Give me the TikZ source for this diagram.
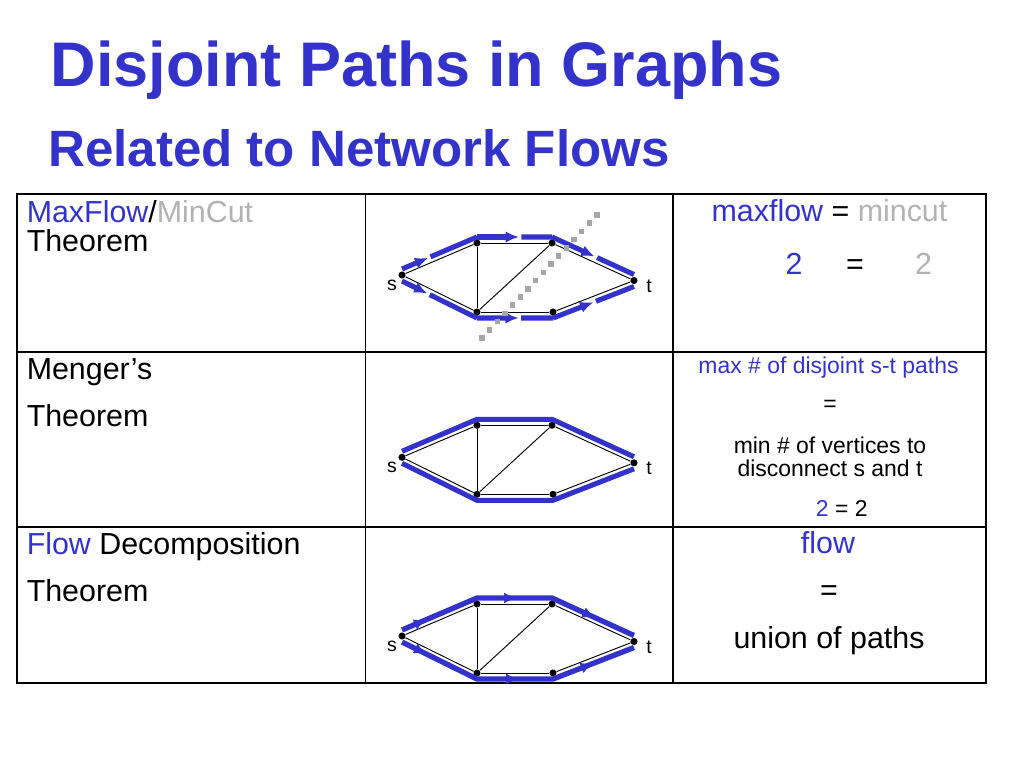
\documentclass[tikz,border=0pt]{standalone}
\usepackage{fontspec}
\setmainfont{Liberation Sans}
\usetikzlibrary{calc,arrows.meta,decorations.markings}
\definecolor{slideblue}{RGB}{51,51,204}
\definecolor{cutgray}{RGB}{178,178,178}
\definecolor{dotgray}{RGB}{166,166,166}
\tikzset{
  vtx/.style={circle,fill=black,inner sep=0pt,minimum size=5.3pt},
  edge/.style={line width=0.7pt,black},
  flow/.style={line width=3.8pt,slideblue},
  lbl/.style={inner sep=0pt,font=\fontsize{14.6}{16}\selectfont},
  celltxt/.style={inner sep=0pt,anchor=base west,font=\fontsize{22.8}{24}\selectfont},
  celltxtc/.style={inner sep=0pt,anchor=base,font=\fontsize{22.8}{24}\selectfont},
  smalltxt/.style={inner sep=0pt,anchor=base,font=\fontsize{17.2}{18}\selectfont}
}
\begin{document}
\begin{tikzpicture}[x=0.75pt,y=-0.75pt]
\useasboundingbox (0,0) rectangle (1023,767);
% titles
\node[anchor=base west,inner sep=0pt,text=slideblue,font=\fontsize{47.25}{50}\selectfont\bfseries] (title) at (50.5,86.7) {Disjoint Paths in Graphs};
\node[anchor=base west,inner sep=0pt,text=slideblue,font=\fontsize{38.3}{40}\selectfont\bfseries] (subtitle) at (48,166.7) {Related to Network Flows};
% table
\draw[line width=1pt] (365.5,194) -- (365.5,683);
\draw[line width=1pt] (673,194) -- (673,683);
\draw[line width=1pt] (17,352) -- (986,352);
\draw[line width=1pt] (17,527) -- (986,527);
\draw[line width=1.8pt] (17,194) rectangle (986,683);
% left column
\node[celltxt] (maxmin) at (26.5,222.3) {\textcolor{slideblue}{MaxFlow}/\textcolor{cutgray}{MinCut}};
\node[celltxt] (thm1) at (26.5,251.7) {Theorem};
\node[celltxt] (menger) at (26.5,379) {Menger’s};
\node[celltxt] (thm2) at (26.5,426.7) {Theorem};
\node[celltxt] (flowdec) at (26.5,554) {\textcolor{slideblue}{Flow} Decomposition};
\node[celltxt] (thm3) at (26.5,601.7) {Theorem};
% right column
\node[celltxtc] (mfmc) at (829.5,221.7) {\textcolor{slideblue}{maxflow} = \textcolor{cutgray}{mincut}};
\node[celltxtc,text=slideblue] (twoa) at (794,274) {2};
\node[celltxtc] (eqa) at (855,274) {=};
\node[celltxtc,text=cutgray] (twob) at (923.5,274) {2};
\node[smalltxt,text=slideblue] (maxpaths) at (828.5,373) {max \# of disjoint s-t paths};
\node[smalltxt] (eqb) at (830,411.7) {=};
\node[smalltxt] (minvert) at (830,453) {min \# of vertices to};
\node[smalltxt] (disc) at (830,476) {disconnect s and t};
\node[smalltxt] (twoc) at (841.7,516.7) {\textcolor{slideblue}{2} = 2};
\node[celltxtc,text=slideblue] (flow) at (828,553) {flow};
\node[celltxtc] (eqc) at (829,600) {=};
\node[celltxtc] (union) at (829,648) {union of paths};
% the three graphs
\foreach \g/\y in {1/275,2/457.3,3/636}{
  \node[vtx] (s\g) at (402,\y) {};
  \node[vtx] (a\g) at (477,\y-32) {};
  \node[vtx] (b\g) at (552,\y-32) {};
  \node[vtx] (c\g) at (477,\y+37) {};
  \node[vtx] (d\g) at (553,\y+37) {};
  \node[vtx] (t\g) at (634,\y+5.5) {};
  \node[lbl] (sl\g) at (392,\y+10.5) {s};
  \node[lbl] (tl\g) at (649,\y+11) {t};
  \foreach \u/\w in {s/a,s/c,a/b,a/c,c/b,b/t,c/d,d/t}
    \draw[edge] (\u\g) -- (\w\g);
  \foreach \u in {s,a,b,t}
    \coordinate (\u\g-up) at ([yshift=4.5pt]\u\g.center);
  \foreach \u in {s,c,d,t}
    \coordinate (\u\g-dn) at ([yshift=-4.5pt]\u\g.center);
}
% graph 1: flow with arrows
\foreach \u/\w/\p/\q in {s/a/0.35/0.38,a/b/0.56/0.59,b/t/0.52/0.55}{
  \draw[flow,-{Latex[length=10pt,width=8.5pt]}] (\u1-up) -- ($(\u1-up)!\p!(\w1-up)$);
  \draw[flow] ($(\u1-up)!\q!(\w1-up)$) -- (\w1-up);
}
\foreach \u/\w/\p/\q in {s/c/0.34/0.37,c/d/0.55/0.58,d/t/0.5/0.53}{
  \draw[flow,-{Latex[length=10pt,width=8.5pt]}] (\u1-dn) -- ($(\u1-dn)!\p!(\w1-dn)$);
  \draw[flow] ($(\u1-dn)!\q!(\w1-dn)$) -- (\w1-dn);
}
% graph 2: two disjoint paths
\draw[flow] (s2-up) -- (a2-up) -- (b2-up) -- (t2-up);
\draw[flow] (s2-dn) -- (c2-dn) -- (d2-dn) -- (t2-dn);
% graph 3: union of paths
\draw[flow,line width=4pt] (s3-up) -- (a3-up) -- (b3-up) -- (t3-up);
\draw[flow,line width=4pt] (s3-dn) -- (c3-dn) -- (d3-dn) -- (t3-dn);
\foreach \u/\w/\p in {s/a/0.32,a/b/0.52,b/t/0.52}
  \path[color=slideblue,postaction={decorate},decoration={markings,mark=at position \p with {\arrow{Latex[length=9pt,width=8pt]}}}] (\u3-up) -- (\w3-up);
\foreach \u/\w/\p in {s/c/0.32,c/d/0.54,d/t/0.49}
  \path[color=slideblue,postaction={decorate},decoration={markings,mark=at position \p with {\arrow{Latex[length=9pt,width=8pt]}}}] (\u3-dn) -- (\w3-dn);
% min cut
\coordinate (cutA) at (597,215);
\coordinate (cutB) at (482,338);
\foreach \k in {0,...,15}
  \fill[dotgray,shift={($(cutA)!\k/15!(cutB)$)}] (-2.8,-2.8) rectangle (2.8,2.8);
\end{tikzpicture}
\end{document}
